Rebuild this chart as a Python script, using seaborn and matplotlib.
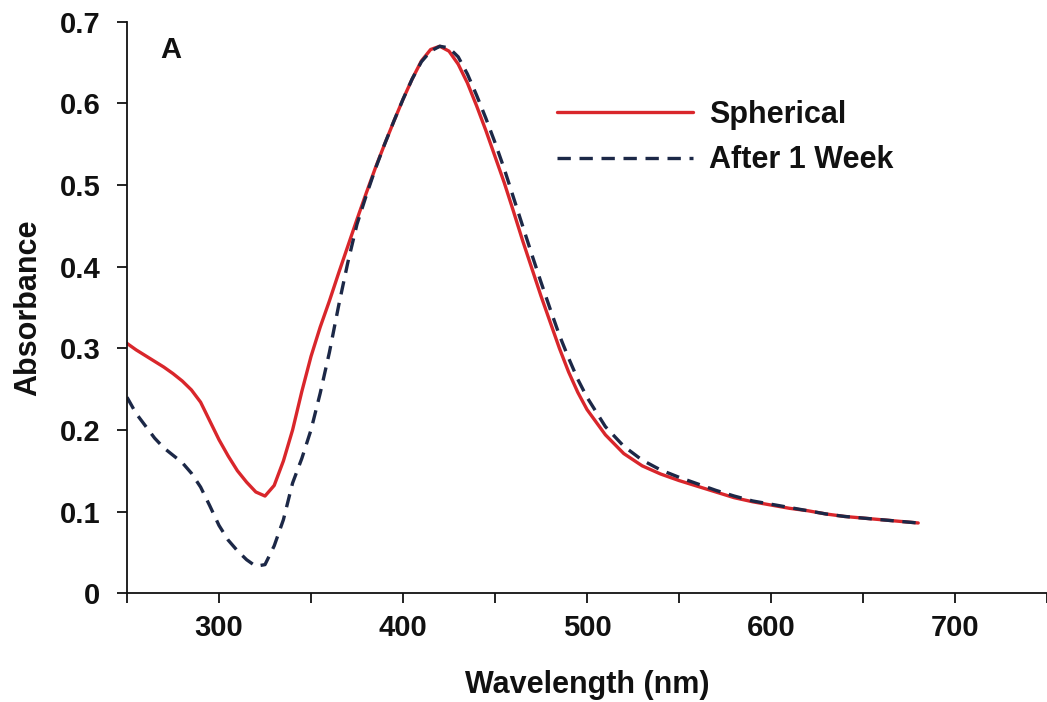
import matplotlib
matplotlib.use("Agg")
import matplotlib.pyplot as plt
import pandas as pd
import seaborn as sns

# wavelength (nm) and absorbance
wavelength = [250, 255, 260, 265, 270, 275, 280, 285, 290, 295, 300, 305, 310, 315, 320,
              325, 330, 335, 340, 345, 350, 355, 360, 365, 370, 375, 380, 385, 390, 395,
              400, 405, 410, 415, 420, 425, 430, 435, 440, 445, 450, 455, 460, 465, 470,
              475, 480, 485, 490, 495, 500, 510, 520, 530, 540, 550, 560, 570, 580, 590,
              600, 610, 620, 630, 640, 650, 660, 670, 680]
spherical = [0.306, 0.298, 0.291, 0.284, 0.277, 0.269, 0.260, 0.249, 0.234, 0.211, 0.188,
             0.168, 0.150, 0.136, 0.124, 0.119, 0.132, 0.162, 0.200, 0.247, 0.290, 0.326,
             0.358, 0.392, 0.425, 0.458, 0.490, 0.521, 0.550, 0.578, 0.605, 0.630, 0.652,
             0.666, 0.670, 0.664, 0.648, 0.625, 0.597, 0.567, 0.535, 0.503, 0.468, 0.432,
             0.398, 0.364, 0.332, 0.300, 0.271, 0.246, 0.225, 0.194, 0.171, 0.156, 0.146,
             0.138, 0.131, 0.124, 0.117, 0.112, 0.108, 0.104, 0.101, 0.097, 0.094, 0.092,
             0.090, 0.088, 0.086]
after_week = [0.240, 0.220, 0.205, 0.190, 0.178, 0.169, 0.160, 0.147, 0.130, 0.107, 0.083,
              0.065, 0.052, 0.041, 0.033, 0.035, 0.058, 0.090, 0.135, 0.165, 0.200, 0.245,
              0.295, 0.352, 0.405, 0.452, 0.487, 0.520, 0.550, 0.578, 0.605, 0.630, 0.651,
              0.664, 0.670, 0.668, 0.657, 0.636, 0.610, 0.582, 0.552, 0.520, 0.485, 0.450,
              0.415, 0.381, 0.348, 0.316, 0.288, 0.262, 0.240, 0.204, 0.180, 0.163, 0.151,
              0.142, 0.134, 0.126, 0.119, 0.113, 0.109, 0.105, 0.101, 0.097, 0.094, 0.092,
              0.090, 0.088, 0.086]

series_names = ["Spherical", "After 1 Week"]
x_ticks = [250, 300, 350, 400, 450, 500, 550, 600, 650, 700, 750]
x_labels = ["", "300", "", "400", "", "500", "", "600", "", "700", ""]
y_ticks = [0, 0.1, 0.2, 0.3, 0.4, 0.5, 0.6, 0.7]
y_labels = ["0", "0.1", "0.2", "0.3", "0.4", "0.5", "0.6", "0.7"]

df = pd.DataFrame({
    "Wavelength": wavelength * 2,
    "Absorbance": spherical + after_week,
    "Sample": [series_names[0]] * len(wavelength) + [series_names[1]] * len(wavelength),
})

sns.set_style("ticks")
plt.rcParams["font.family"] = ["Liberation Sans", "DejaVu Sans"]
plt.rcParams["font.weight"] = "bold"
plt.rcParams["text.color"] = "#111111"
plt.rcParams["axes.labelcolor"] = "#111111"

fig = plt.figure(figsize=(10.47, 7.02), dpi=100)
ax = fig.add_axes([0.1213, 0.155, 0.8787, 0.814])

sns.lineplot(data=df, x="Wavelength", y="Absorbance", hue="Sample", style="Sample",
             palette={series_names[0]: "#d9262b", series_names[1]: "#1c2847"},
             dashes={series_names[0]: "", series_names[1]: (4, 2.6)},
             linewidth=2.4, ax=ax)

ax.set_xlim(250, 750)
ax.set_ylim(0, 0.7)
ax.set_xticks(x_ticks)
ax.set_xticklabels(x_labels)
ax.set_yticks(y_ticks)
ax.set_yticklabels(y_labels)
ax.tick_params(axis="both", labelsize=21, length=7, width=1.3, colors="#111111")
ax.tick_params(axis="x", pad=8)
ax.tick_params(axis="y", pad=12)
for s in ["top", "right"]:
    ax.spines[s].set_visible(False)
for s in ["left", "bottom"]:
    ax.spines[s].set_linewidth(1.3)
    ax.spines[s].set_color("#111111")

ax.set_xlabel("Wavelength (nm)", fontsize=22, fontweight="bold", labelpad=20)
ax.set_ylabel("Absorbance", fontsize=22, fontweight="bold", labelpad=12)
ax.text(274, 0.665, "A", fontsize=21, fontweight="bold", ha="center", va="center")

leg = ax.legend(loc="upper left", bbox_to_anchor=(0.438, 0.911), frameon=False,
                fontsize=22, handlelength=4.45, handletextpad=0.5, labelspacing=0.5)
for t in leg.get_texts():
    t.set_fontweight("bold")

fig.savefig("out.png", dpi=100)
